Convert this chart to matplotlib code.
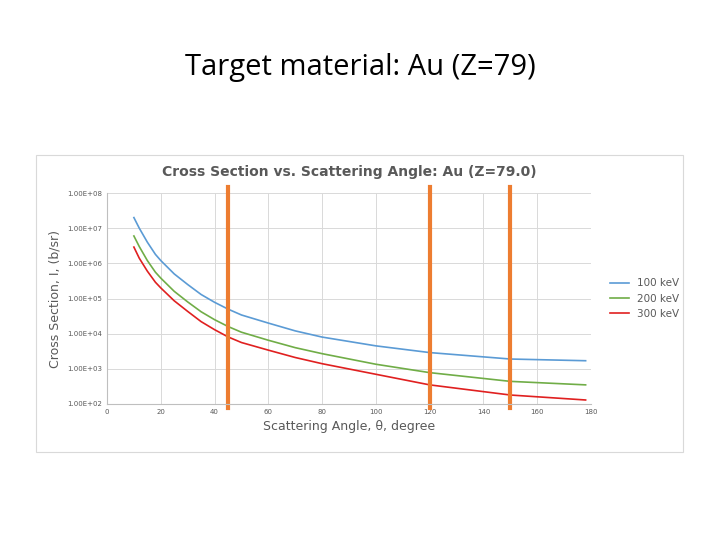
import math
import matplotlib
matplotlib.use("Agg")
import matplotlib.pyplot as plt
from matplotlib.patches import Rectangle
import matplotlib.ticker as mt

angles = [10, 12, 15, 18, 20, 25, 30, 35, 40, 45, 50, 60, 70, 80, 100, 120, 150, 178]
s100 = [2.0e7, 1.0e7, 4.0e6, 1.8e6, 1.2e6, 5.0e5, 2.5e5, 1.3e5, 7.8e4, 5.0e4, 3.4e4, 2.0e4, 1.2e4, 8.0e3, 4.5e3, 2.9e3, 1.9e3, 1.7e3]
s200 = [6.0e6, 3.0e6, 1.2e6, 5.6e5, 3.8e5, 1.6e5, 8.0e4, 4.2e4, 2.5e4, 1.6e4, 1.1e4, 6.5e3, 4.0e3, 2.7e3, 1.35e3, 780, 440, 350]
s300 = [2.9e6, 1.4e6, 6.0e5, 2.9e5, 2.0e5, 8.6e4, 4.3e4, 2.2e4, 1.3e4, 8.1e3, 5.6e3, 3.4e3, 2.1e3, 1.4e3, 700, 350, 180, 130]
marks = [45, 120, 150]

fig = plt.figure(figsize=(7.2, 5.4), dpi=100)
fig.text(0.5, 1 - 68/540, "Target material: Au (Z=79)", ha="center", va="center",
         fontsize=21, family="Open Sans")
fig.patches.append(Rectangle((36/720, 1-452/540), 647/720, 297/540, transform=fig.transFigure,
                             fill=False, edgecolor="#d9d9d9", lw=0.8))
ax = fig.add_axes([107/720, 1-404/540, 484/720, 211/540])
ax.plot(angles, s100, color="#5b9bd5", lw=1.2, label="100 keV")
ax.plot(angles, s200, color="#70ad47", lw=1.2, label="200 keV")
ax.plot(angles, s300, color="#e02020", lw=1.2, label="300 keV")
for m in marks:
    ax.axvline(m, ymin=-0.02, ymax=1.03, color="#ed7d31", lw=3, clip_on=False)
ax.set_yscale("log")
ax.set_ylim(1e2, 1e8)
ax.set_xlim(0, 180)
ax.set_xticks(range(0, 181, 20))
ax.yaxis.set_major_formatter(mt.FuncFormatter(lambda v, p: f"1.00E+{int(round(math.log10(v))):02d}"))
ax.yaxis.set_minor_locator(mt.NullLocator())
ax.grid(True, color="#d9d9d9", lw=0.7)
for s in ["top", "right"]:
    ax.spines[s].set_visible(False)
for s in ["left", "bottom"]:
    ax.spines[s].set_color("#bfbfbf")
ax.tick_params(labelsize=5, colors="#595959", length=0)
ax.set_title("Cross Section vs. Scattering Angle: Au (Z=79.0)", fontsize=10, color="#595959", pad=12, fontweight="bold")
ax.set_xlabel("Scattering Angle, θ, degree", fontsize=9, color="#595959")
ax.set_ylabel("Cross Section, I, (b/sr)", fontsize=9, color="#595959")
ax.legend(loc="center left", bbox_to_anchor=(1.02, 0.5), frameon=False, fontsize=7.5, labelcolor="#595959", handlelength=1.8)
fig.savefig("out.png", dpi=100)
